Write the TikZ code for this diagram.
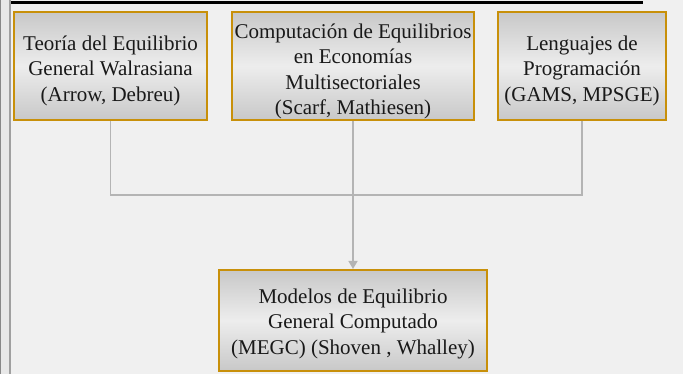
\documentclass[tikz,border=0pt]{standalone}
\usepackage{fontspec}
\setmainfont{Liberation Serif}
\usetikzlibrary{arrows.meta}
\definecolor{bg}{HTML}{F0F0F0}
\definecolor{gold}{HTML}{C8900A}
\definecolor{edgegray}{HTML}{C8C8C8}
\definecolor{midgray}{HTML}{EDEDED}
\definecolor{linegray}{HTML}{B4B4B4}
\definecolor{leftdark}{HTML}{888888}
\definecolor{leftlight}{HTML}{A0A0A0}
\definecolor{stripe}{HTML}{E8E8E8}
\tikzset{
  box/.style={rectangle, draw=gold, line width=2pt, top color=edgegray, bottom color=edgegray, middle color=midgray, inner sep=0pt},
  txt/.style={align=center, inner sep=0pt, text=black!90, font=\fontsize{21}{25.5}\selectfont},
  conn/.style={draw=linegray, line width=1.5pt},
  tip/.style={-{Triangle[width=9pt,length=8pt]}}
}
\begin{document}
\begin{tikzpicture}[x=1pt,y=-1pt]
\useasboundingbox (0,0) rectangle (683,374);
\fill[bg] (0,0) rectangle (683,374);
\fill[stripe] (1,0) rectangle (9,374);
\fill[leftdark] (0,0) rectangle (1,374);
\fill[leftlight] (9,0) rectangle (11,374);
\fill[black] (11,0.8) rectangle (643,3.6);

\node[box, minimum width=193pt, minimum height=108pt] (b1) at (110.5,66) {};
\node[box, minimum width=242pt, minimum height=108pt] (b2) at (353,66) {};
\node[box, minimum width=168pt, minimum height=108pt] (b3) at (582,66) {};
\node[box, minimum width=268pt, minimum height=101pt] (b4) at (353,320.5) {};

\node[txt] (t1) at ([yshift=-4.5pt]b1.center) {Teoría del Equilibrio\\General Walrasiana\\(Arrow, Debreu)};
\node[txt] (t2) at ([yshift=-5.5pt]b2.center) {Computación de Equilibrios\\en Economías\\Multisectoriales\\(Scarf, Mathiesen)};
\node[txt] (t3) at ([yshift=-4.5pt]b3.center) {Lenguajes de\\Programación\\(GAMS, MPSGE)};
\node[txt] (t4) at ([yshift=-3pt]b4.center) {Modelos de Equilibrio\\General Computado\\(MEGC) (Shoven , Whalley)};

\coordinate (jn) at (353,195);
\draw[conn] (b1.south) |- (jn) -| (b3.south);
\draw[conn] (b2.south) -- (jn);
\draw[conn, tip, fill=linegray] (jn) -- (b4.north);
\end{tikzpicture}
\end{document}
